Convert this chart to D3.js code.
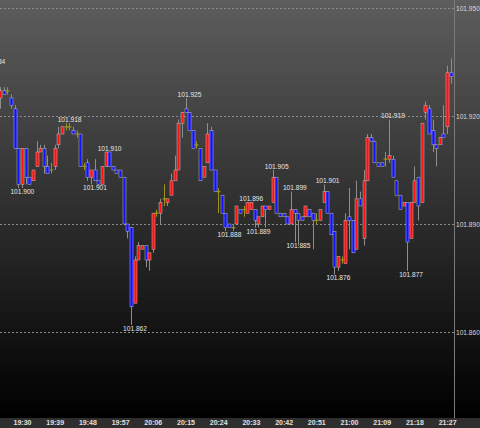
<!DOCTYPE html>
<html>
<head>
<meta charset="utf-8">
<script src="https://cdn.jsdelivr.net/npm/d3@7"></script>
<style>
html, body { margin: 0; padding: 0; background: #000; }
svg { display: block; }
text { font-family: "Liberation Sans", Arial, sans-serif; }
</style>
</head>
<body>
<svg id="chart" width="480" height="428"></svg>
<script>
// one-minute bars, first bar at 19:20
const firstBar = "19:20";

const opens = [
101.930,101.931,101.928,101.925,101.927,101.927,101.925,101.922,101.911,101.901,
101.911,101.903,101.902,101.906,101.910,101.911,101.906,101.905,101.906,101.912,
101.915,101.917,101.917,101.916,101.915,101.915,101.906,101.907,101.903,101.905,
101.902,101.901,101.906,101.910,101.906,101.905,101.905,101.903,101.890,101.889,
101.868,101.880,101.883,101.884,101.880,101.883,101.893,101.893,101.897,101.896,
101.898,101.902,101.905,101.918,101.922,101.921,101.916,101.912,101.911,101.903,
101.907,101.916,101.905,101.899,101.898,101.893,101.890,101.889,101.890,101.894,
101.894,101.893,101.894,101.894,101.890,101.892,101.895,101.894,101.896,101.903,
101.893,101.893,101.892,101.890,101.894,101.893,101.892,101.892,101.894,101.893,
101.891,101.891,101.896,101.899,101.893,101.888,101.878,101.880,101.879,101.892,
101.891,101.883,101.897,101.886,101.902,101.914,101.913,101.907,101.907,101.908,
101.908,101.908,101.902,101.898,101.895,101.896,101.886,101.896,101.903,101.896,
101.921,101.922,101.916,101.912,101.912,101.915,101.917,101.932];

const highs = [
101.934,101.933,101.929,101.928,101.928,101.928,101.926,101.923,101.911,101.911,
101.911,101.903,101.905,101.913,101.912,101.912,101.909,101.907,101.912,101.917,
101.917,101.918,101.918,101.917,101.916,101.915,101.907,101.908,101.905,101.908,
101.902,101.906,101.910,101.910,101.906,101.905,101.905,101.903,101.890,101.889,
101.881,101.885,101.884,101.884,101.882,101.893,101.894,101.897,101.901,101.897,
101.904,101.909,101.919,101.921,101.925,101.921,101.916,101.913,101.911,101.906,
101.918,101.917,101.905,101.900,101.898,101.893,101.890,101.890,101.895,101.894,
101.895,101.896,101.896,101.894,101.892,101.895,101.895,101.895,101.905,101.903,
101.893,101.893,101.892,101.899,101.894,101.893,101.892,101.895,101.894,101.893,
101.893,101.894,101.901,101.899,101.893,101.888,101.881,101.881,101.893,101.900,
101.891,101.902,101.899,101.905,101.915,101.915,101.913,101.907,101.907,101.910,
101.919,101.909,101.902,101.898,101.896,101.896,101.896,101.906,101.903,101.918,
101.924,101.923,101.919,101.912,101.914,101.923,101.934,101.936];

const lows = [
101.929,101.927,101.924,101.922,101.926,101.926,101.922,101.911,101.900,101.900,
101.901,101.901,101.902,101.906,101.910,101.904,101.904,101.904,101.905,101.911,
101.915,101.916,101.916,101.915,101.914,101.906,101.905,101.902,101.901,101.902,
101.901,101.901,101.906,101.906,101.905,101.904,101.903,101.890,101.886,101.862,
101.868,101.880,101.883,101.878,101.877,101.882,101.892,101.890,101.895,101.895,
101.898,101.902,101.905,101.914,101.921,101.916,101.911,101.911,101.902,101.903,
101.907,101.905,101.899,101.893,101.893,101.888,101.889,101.888,101.890,101.893,
101.892,101.893,101.894,101.889,101.889,101.892,101.889,101.894,101.896,101.893,
101.892,101.892,101.890,101.890,101.885,101.884,101.891,101.892,101.892,101.883,
101.890,101.891,101.896,101.893,101.887,101.876,101.877,101.879,101.879,101.883,
101.882,101.883,101.895,101.884,101.902,101.913,101.907,101.906,101.906,101.906,
101.907,101.903,101.898,101.894,101.895,101.877,101.886,101.896,101.891,101.896,
101.919,101.915,101.910,101.906,101.912,101.914,101.915,101.929];

const closes = [
101.931,101.928,101.925,101.927,101.926,101.927,101.923,101.911,101.901,101.911,
101.903,101.901,101.905,101.910,101.911,101.906,101.904,101.905,101.911,101.915,
101.917,101.917,101.917,101.915,101.915,101.906,101.906,101.903,101.905,101.902,
101.901,101.906,101.910,101.906,101.905,101.904,101.903,101.890,101.888,101.867,
101.880,101.884,101.884,101.880,101.882,101.893,101.893,101.896,101.897,101.897,
101.902,101.905,101.918,101.921,101.921,101.916,101.911,101.912,101.902,101.906,
101.915,101.905,101.899,101.899,101.893,101.889,101.889,101.889,101.895,101.893,
101.894,101.896,101.896,101.891,101.892,101.895,101.894,101.895,101.903,101.893,
101.892,101.892,101.890,101.894,101.893,101.891,101.891,101.895,101.892,101.891,
101.891,101.894,101.899,101.893,101.887,101.878,101.881,101.880,101.891,101.891,
101.882,101.897,101.895,101.902,101.914,101.913,101.907,101.906,101.906,101.908,
101.909,101.903,101.898,101.894,101.896,101.885,101.896,101.902,101.895,101.918,
101.923,101.915,101.912,101.911,101.914,101.914,101.932,101.931];

const priceTicks = [101.860, 101.890, 101.920, 101.950];
const timeTicks = ["19:30", "19:39", "19:48", "19:57", "20:06", "20:15", "20:24",
                   "20:33", "20:42", "20:51", "21:00", "21:09", "21:18", "21:27"];

// swing points that carry a price label
const markTimes = ["19:20", "19:28", "19:41", "19:48", "19:52", "19:59", "20:14", "20:25", "20:31",
                   "20:33", "20:38", "20:43", "20:44", "20:52", "20:55", "21:10", "21:15"];
const markSides = ["high", "low", "high", "low", "high", "low", "high", "low", "high",
                   "low", "high", "high", "low", "high", "low", "high", "low"];

const W = 480, H = 428, plotRight = 454.5, axisBottom = 418;
const upColor = "#ff1010", downColor = "#1010ff", dojiColor = "#9c9518";

const parseTime = d3.timeParse("%H:%M");
const start = parseTime(firstBar);
const bars = opens.map((o, i) => ({
    t: d3.timeMinute.offset(start, i),
    o: o, h: highs[i], l: lows[i], c: closes[i]
}));
const byTime = new Map(bars.map(b => [+b.t, b]));

// bar for 19:29 sits on the 19:30 label
const x = d3.scaleTime()
    .domain([parseTime("19:29"), parseTime("21:26")])
    .range([22, 447.1]);
const y = d3.scaleLinear().domain([101.860, 101.950]).range([332, 8]);

const svg = d3.select("#chart");
const defs = svg.append("defs");
const grad = defs.append("linearGradient").attr("id", "bg")
    .attr("x1", 0).attr("y1", 0).attr("x2", 0).attr("y2", 1);
grad.append("stop").attr("offset", "0%").attr("stop-color", "#5d5d5d");
grad.append("stop").attr("offset", "100%").attr("stop-color", "#000");
defs.append("clipPath").attr("id", "plotClip")
    .append("rect").attr("x", 0).attr("y", 0).attr("width", plotRight).attr("height", axisBottom);

svg.append("rect").attr("width", W).attr("height", axisBottom).attr("fill", "url(#bg)");
svg.append("rect").attr("y", axisBottom).attr("width", W).attr("height", H - axisBottom).attr("fill", "#2e2e2e");

// dashed price grid
svg.append("g").selectAll("line").data(priceTicks).enter().append("line")
    .attr("x1", 0).attr("x2", plotRight)
    .attr("y1", d => Math.round(y(d)) + 0.5).attr("y2", d => Math.round(y(d)) + 0.5)
    .attr("stroke", "#8c8c8c").attr("stroke-dasharray", "2,2");

svg.append("line").attr("x1", plotRight).attr("x2", plotRight).attr("y1", 0).attr("y2", axisBottom)
    .attr("stroke", "#7a7a7a");

const plot = svg.append("g").attr("clip-path", "url(#plotClip)");
const isDoji = b => Math.abs(b.o - b.c) < 1e-9;
const colorOf = b => isDoji(b) ? dojiColor : (b.c > b.o ? upColor : downColor);

plot.selectAll("line.wick").data(bars).enter().append("line").attr("class", "wick")
    .attr("x1", b => Math.round(x(b.t)) + 0.5).attr("x2", b => Math.round(x(b.t)) + 0.5)
    .attr("y1", b => y(b.h)).attr("y2", b => y(b.l))
    .attr("stroke", b => isDoji(b) ? dojiColor : "#8e8e8e");

plot.selectAll("rect.body").data(bars.filter(b => !isDoji(b))).enter().append("rect").attr("class", "body")
    .attr("x", b => Math.round(x(b.t)) - 1)
    .attr("width", 3)
    .attr("y", b => y(Math.max(b.o, b.c)))
    .attr("height", b => Math.max(1, Math.abs(y(b.o) - y(b.c))))
    .attr("fill", colorOf)
    .attr("stroke", "#bdbdbd").attr("stroke-width", 0.5);

plot.selectAll("line.doji").data(bars.filter(isDoji)).enter().append("line").attr("class", "doji")
    .attr("x1", b => Math.round(x(b.t)) - 1.5).attr("x2", b => Math.round(x(b.t)) + 2.5)
    .attr("y1", b => y(b.o)).attr("y2", b => y(b.o))
    .attr("stroke", dojiColor).attr("stroke-width", 1.2);

// swing labels
const marks = markTimes.map((t, i) => {
    const b = byTime.get(+parseTime(t));
    return { b: b, side: markSides[i], v: markSides[i] === "high" ? b.h : b.l };
});
svg.append("g").selectAll("text").data(marks).enter().append("text")
    .attr("x", d => x(d.b.t) + 4)
    .attr("y", d => d.side === "high" ? y(d.v) - 1.5 : y(d.v) + 6)
    .attr("text-anchor", "middle")
    .attr("font-size", "6.6px")
    .attr("fill", "#e6e6e6")
    .text(d => d3.format(".3f")(d.v));

// price axis
const gy = svg.append("g").attr("transform", `translate(${plotRight},0)`)
    .call(d3.axisRight(y).tickValues(priceTicks).tickSize(0).tickPadding(1.5).tickFormat(d3.format(".3f")));
gy.select(".domain").remove();
gy.selectAll("text").attr("fill", "#d8d8d8").attr("font-size", "6.6px")
    .attr("font-family", "'Liberation Sans', Arial, sans-serif");

// time axis: labels mark the bar that opens on that minute, one step to the right of its tick
const gx = svg.append("g").attr("transform", `translate(0,${axisBottom})`)
    .call(d3.axisBottom(x).tickValues(timeTicks.map(t => d3.timeMinute.offset(parseTime(t), -1)))
        .tickSize(0).tickPadding(2)
        .tickFormat(d => d3.timeFormat("%H:%M")(d3.timeMinute.offset(d, 1))));
gx.select(".domain").remove();
gx.selectAll("text").attr("fill", "#e0e0e0").attr("font-size", "7px").attr("font-weight", "bold")
    .attr("font-family", "'Liberation Sans', Arial, sans-serif");
</script>
</body>
</html>
